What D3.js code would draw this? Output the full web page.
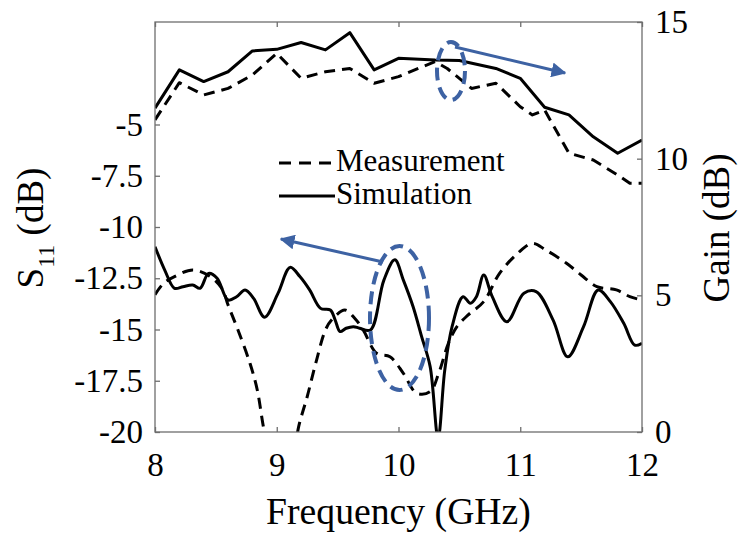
<!DOCTYPE html>
<html>
<head>
<meta charset="utf-8">
<script src="https://cdn.jsdelivr.net/npm/d3@7"></script>
<style>
  html, body { margin: 0; padding: 0; background: #fff; }
  svg { display: block; }
</style>
</head>
<body>
<svg id="chart" width="739" height="533"></svg>
<script>
// Gain (right axis) — simulated
const gainSimFreq = [8.0, 8.2, 8.4, 8.6, 8.8, 9.0, 9.2, 9.4, 9.6, 9.8, 10.0, 10.3, 10.5, 10.8, 11.0, 11.2, 11.4, 11.6, 11.8, 12.0];
const gainSim     = [11.85, 13.25, 12.82, 13.18, 13.94, 14.0, 14.25, 13.98, 14.61, 13.25, 13.67, 13.61, 13.59, 13.3, 12.94, 11.88, 11.6, 10.8, 10.2, 10.68];

// Gain (right axis) — measured
const gainMeasFreq = [8.0, 8.2, 8.4, 8.6, 8.8, 9.0, 9.2, 9.4, 9.6, 9.8, 10.0, 10.2, 10.3, 10.4, 10.6, 10.8, 11.0, 11.1, 11.2, 11.4, 11.6, 11.8, 11.9, 12.0];
const gainMeas     = [11.42, 12.78, 12.33, 12.57, 13.06, 13.85, 12.94, 13.18, 13.3, 12.76, 13.0, 13.37, 13.55, 13.3, 12.57, 12.76, 11.9, 11.6, 11.78, 10.2, 9.95, 9.4, 9.1, 9.1];

// S11 (left axis) — simulated
const s11SimFreq = [8.00, 8.08, 8.16, 8.23, 8.31, 8.37, 8.44, 8.51, 8.60, 8.67, 8.74, 8.81, 8.90, 9.01, 9.11, 9.19, 9.27, 9.36, 9.44, 9.48, 9.52, 9.57, 9.63, 9.68, 9.77, 9.88, 9.97, 10.04, 10.12, 10.19, 10.26, 10.325, 10.38, 10.44, 10.53, 10.59, 10.64, 10.70, 10.77, 10.89, 11.03, 11.13, 11.27, 11.39, 11.52, 11.64, 11.74, 11.85, 11.94, 12.00];
const s11Sim     = [-10.96, -12.1, -12.99, -12.91, -12.83, -12.99, -12.26, -12.5, -13.56, -13.4, -13.07, -13.48, -14.4, -13.24, -11.97, -12.42, -13.07, -13.97, -14.05, -14.54, -15.1, -14.94, -14.86, -14.94, -15.02, -12.59, -11.6, -12.59, -13.89, -15.35, -16.81, -20.3, -16.98, -14.86, -13.4, -13.72, -13.4, -12.34, -13.4, -14.62, -13.23, -13.15, -14.54, -16.33, -14.86, -13.07, -13.64, -14.7, -15.76, -15.67];

// S11 (left axis) — measured
const s11MeasFreq = [8.00, 8.07, 8.16, 8.31, 8.45, 8.55, 8.60, 8.68, 8.78, 8.84, 8.89, 8.95, 9.05, 9.13, 9.18, 9.25, 9.32, 9.40, 9.45, 9.56, 9.64, 9.71, 9.82, 9.93, 10.04, 10.15, 10.26, 10.33, 10.41, 10.48, 10.57, 10.70, 10.83, 10.98, 11.10, 11.21, 11.38, 11.50, 11.63, 11.79, 11.90, 12.00];
const s11Meas     = [-13.3, -12.75, -12.42, -12.1, -12.4, -13.0, -13.8, -15.0, -16.65, -17.95, -19.74, -21.5, -22.5, -21.5, -19.74, -18.28, -16.65, -15.02, -14.54, -14.05, -14.45, -15.02, -16.16, -16.33, -17.14, -18.11, -18.03, -17.14, -15.67, -14.86, -14.3, -13.64, -12.26, -11.28, -10.8, -11.12, -11.77, -12.34, -12.91, -13.07, -13.4, -13.56];

// Axis ticks
const freqTicks = [8, 9, 10, 11, 12];
const s11Ticks = [-5, -7.5, -10, -12.5, -15, -17.5, -20];
const gainTicks = [0, 5, 10, 15];

const legendLabels = ["Measurement", "Simulation"];

const FONT = "Liberation Serif";
const svg = d3.select("#chart");
const plotL = 155, plotR = 642, plotT = 22, plotB = 432;
const axisGrey = "#6e6e6e";
const accent = "#3d62a3";

const x = d3.scaleLinear().domain([8, 12]).range([plotL, plotR]);
const yS = d3.scaleLinear().domain([-20, 0]).range([plotB, plotT]);
const yG = d3.scaleLinear().domain([0, 15]).range([plotB, plotT]);

const serif = sel => sel.attr("font-family", FONT).style("font-family", FONT);

const defs = svg.append("defs");
defs.append("clipPath").attr("id", "plotClip")
  .append("rect").attr("x", plotL).attr("y", plotT).attr("width", plotR - plotL).attr("height", plotB - plotT);

// Curves
const plot = svg.append("g").attr("clip-path", "url(#plotClip)");
const zip = (fs, vs) => fs.map((f, i) => [f, vs[i]]);

const gainLine = d3.line().x(d => x(d[0])).y(d => yG(d[1])).curve(d3.curveLinear);
const s11Line = d3.line().x(d => x(d[0])).y(d => yS(d[1])).curve(d3.curveCatmullRom.alpha(0.5));

const series = [
  { data: zip(gainMeasFreq, gainMeas), line: gainLine, dashed: true },
  { data: zip(gainSimFreq, gainSim), line: gainLine, dashed: false },
  { data: zip(s11MeasFreq, s11Meas), line: s11Line, dashed: true },
  { data: zip(s11SimFreq, s11Sim), line: s11Line, dashed: false }
];
series.forEach(s => {
  plot.append("path")
    .attr("d", s.line(s.data))
    .attr("fill", "none")
    .attr("stroke", "#000")
    .attr("stroke-width", 3)
    .attr("stroke-linejoin", "round")
    .attr("stroke-dasharray", s.dashed ? "11,7" : null);
});

// Frame
svg.append("rect").attr("x", plotL).attr("y", plotT).attr("width", plotR - plotL).attr("height", plotB - plotT)
  .attr("fill", "none").attr("stroke", axisGrey).attr("stroke-width", 1.3);

// Axes with inward ticks
const tickFont = 33;
const xAxis = svg.append("g").attr("transform", `translate(0,${plotB})`)
  .call(d3.axisBottom(x).tickValues(freqTicks).tickSizeInner(-5).tickSizeOuter(0).tickPadding(21).tickFormat(d3.format("d")));
const xAxisTop = svg.append("g").attr("transform", `translate(0,${plotT})`)
  .call(d3.axisTop(x).tickValues(freqTicks).tickSizeInner(-5).tickSizeOuter(0).tickFormat(""));
const yAxisL = svg.append("g").attr("transform", `translate(${plotL},0)`)
  .call(d3.axisLeft(yS).tickValues(s11Ticks).tickSizeInner(-5).tickSizeOuter(0).tickPadding(12).tickFormat(d => String(d)));
const yAxisR = svg.append("g").attr("transform", `translate(${plotR},0)`)
  .call(d3.axisRight(yG).tickValues(gainTicks).tickSizeInner(-5).tickSizeOuter(0).tickPadding(13).tickFormat(d3.format("d")));

[xAxis, xAxisTop, yAxisL, yAxisR].forEach(g => {
  serif(g);
  g.attr("font-size", tickFont);
  g.select(".domain").remove();
  g.selectAll(".tick line").attr("stroke", axisGrey).attr("stroke-width", 1.3);
  g.selectAll(".tick text").attr("font-size", tickFont).attr("fill", "#000").call(serif);
});
xAxis.selectAll(".tick text").attr("dy", "0.71em");

// Axis titles
svg.append("text")
  .attr("x", (plotL + plotR) / 2).attr("y", 524)
  .attr("text-anchor", "middle").attr("font-size", 37.7).call(serif)
  .text("Frequency (GHz)");

const sTitle = svg.append("text")
  .attr("transform", "translate(43,228) rotate(-90)")
  .attr("text-anchor", "middle").attr("font-size", 37).call(serif);
sTitle.append("tspan").text("S");
sTitle.append("tspan").attr("dy", 11).attr("font-size", 24).text("11");
sTitle.append("tspan").attr("dy", -11).text(" (dB)");

svg.append("text")
  .attr("transform", "translate(729,228) rotate(-90)")
  .attr("text-anchor", "middle").attr("font-size", 37).call(serif)
  .text("Gain (dB)");

// Legend
const legend = svg.append("g");
[0, 1].forEach(i => {
  const ly = 163 + i * 33;
  legend.append("line")
    .attr("x1", 279).attr("x2", 335).attr("y1", ly).attr("y2", ly)
    .attr("stroke", "#000").attr("stroke-width", 3)
    .attr("stroke-dasharray", i === 0 ? "12,8" : null);
  legend.append("text")
    .attr("x", 336).attr("y", ly + 8)
    .attr("font-size", 31).call(serif)
    .text(legendLabels[i]);
});

// Highlight ellipses and arrows
defs.append("marker").attr("id", "arrowHead")
  .attr("viewBox", "0 0 10 10").attr("refX", 9).attr("refY", 5)
  .attr("markerWidth", 5).attr("markerHeight", 5).attr("orient", "auto")
  .append("path").attr("d", "M0,0 L10,5 L0,10 Z").attr("fill", accent);

const notes = [
  { cx: 451, cy: 71, rx: 14, ry: 29, x1: 455, y1: 47, x2: 565, y2: 73 },
  { cx: 399.5, cy: 318, rx: 29.5, ry: 72, x1: 383, y1: 262, x2: 281, y2: 239 }
];
notes.forEach(n => {
  svg.append("ellipse")
    .attr("cx", n.cx).attr("cy", n.cy).attr("rx", n.rx).attr("ry", n.ry)
    .attr("fill", "none").attr("stroke", accent).attr("stroke-width", 4)
    .attr("stroke-dasharray", "13,7");
  svg.append("line")
    .attr("x1", n.x1).attr("y1", n.y1).attr("x2", n.x2).attr("y2", n.y2)
    .attr("stroke", accent).attr("stroke-width", 3)
    .attr("marker-end", "url(#arrowHead)");
});
</script>
</body>
</html>
